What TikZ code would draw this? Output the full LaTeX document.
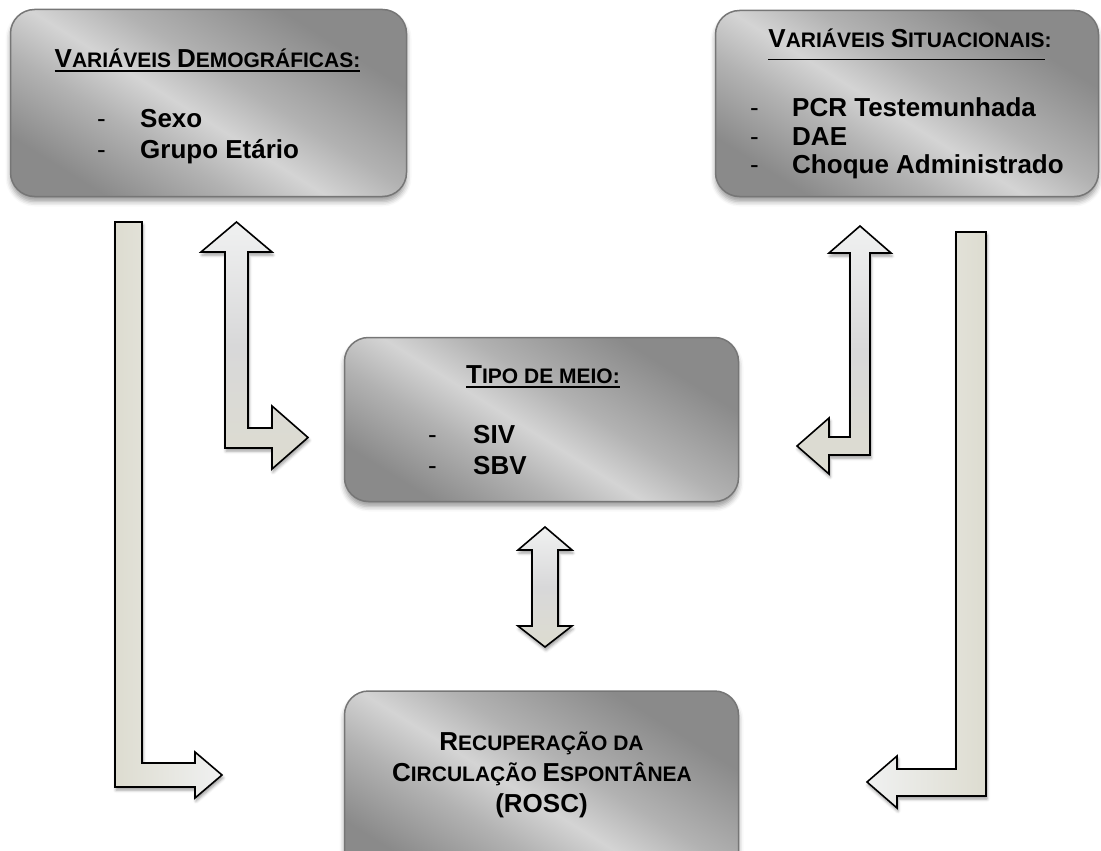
\documentclass[tikz,border=0pt]{standalone}
\usepackage{fontspec}
\setmainfont{Liberation Sans}
\usetikzlibrary{shadows,shadows.blur}
\definecolor{boxline}{RGB}{118,118,118}
\definecolor{metdark}{RGB}{138,138,138}
\definecolor{metmid}{RGB}{178,178,178}
\definecolor{metlight}{RGB}{212,212,212}
\definecolor{arrlight}{RGB}{240,241,241}
\definecolor{arrmid}{RGB}{216,216,217}
\definecolor{arrbeige}{RGB}{221,220,208}

\pgfdeclarehorizontalshading{metal}{100bp}{color(0bp)=(metdark); color(25bp)=(metdark); color(38bp)=(metmid); color(47bp)=(metlight); color(56bp)=(metmid); color(72bp)=(metdark); color(100bp)=(metdark)}

\newsavebox\ulsave
\newcommand{\ulbox}[2][-4.5pt]{\sbox\ulsave{#2}\rlap{\rule[#1]{\wd\ulsave}{1.3pt}}\usebox\ulsave}
\newcommand{\scw}[2]{{\fontsize{26}{30}\selectfont #1}{\fontsize{21}{30}\selectfont #2}}
\newcommand{\itemdash}[1]{\makebox[#1][l]{\mdseries -}}

\begin{document}
\begin{tikzpicture}[x=1pt, y=-1pt,
 every node/.style={inner sep=0pt},
 box/.style={rectangle, rounded corners=24pt, draw=boxline, line width=1.5pt, shading=metal, shading angle=58,
   blur shadow={shadow xshift=0pt, shadow yshift=-5pt, shadow blur radius=5pt, shadow opacity=40}},
 barrow/.style={draw=black, line width=1.6pt, line join=miter,
   blur shadow={shadow xshift=1pt, shadow yshift=-3pt, shadow blur radius=3pt, shadow opacity=40}},
 title/.style={anchor=base, font=\bfseries\fontsize{21}{30}\selectfont},
 item/.style={anchor=base west, font=\bfseries\fontsize{26}{30}\selectfont}]

	\useasboundingbox (0,0) rectangle (1101,851);

	% boxes
	\node[box, minimum width=396pt, minimum height=187pt] (demo) at (208.5,103) {};
	\node[box, minimum width=383pt, minimum height=186pt] (situ) at (907,103.5) {};
	\node[box, minimum width=394pt, minimum height=164pt] (meio) at (541.5,419.5) {};
	\node[box, minimum width=394pt, minimum height=190pt] (rosc) at (541.5,786) {};

	% texts
	\node[title] (demoT) at (207.5,67) {\ulbox{\scw{V}{ARIÁVEIS} \scw{D}{EMOGRÁFICAS:}}};
	\node[item] (demoA) at (97,128) {\itemdash{43pt}Sexo};
	\node[item] (demoB) at (97,158) {\itemdash{43pt}Grupo Etário};

	\node[title] (situT) at (910,48) {\ulbox[-12.5pt]{\scw{V}{ARIÁVEIS} \scw{S}{ITUACIONAIS}}:};
	\node[item] (situA) at (750,117) {\itemdash{42pt}PCR Testemunhada};
	\node[item] (situB) at (750,145) {\itemdash{42pt}DAE};
	\node[item] (situC) at (750,173) {\itemdash{42pt}Choque Administrado};

	\node[title] (meioT) at (543,383) {\ulbox{\scw{T}{IPO DE MEIO:}}};
	\node[item] (meioA) at (428,443) {\itemdash{45pt}SIV};
	\node[item] (meioB) at (428,474) {\itemdash{45pt}SBV};

	\node[title] (roscA) at (541.5,750) {\scw{R}{ECUPERAÇÃO DA}};
	\node[title] (roscB) at (542,781) {\scw{C}{IRCULAÇÃO} \scw{E}{SPONTÂNEA}};
	\node[title] (roscC) at (541.5,812) {\scw{(ROSC)}{}};

	% block arrows
	\coordinate (llTail) at (115,222);
	\coordinate (ldTip) at (236.5,222);
	\coordinate (rdTip) at (860,226);
	\coordinate (rlTail) at (956,232);
	\coordinate (mdTip) at (545,527);

	\draw[barrow, left color=arrbeige, right color=arrlight] (llTail) -- ++(27,0) -- ++(0,541) -- ++(53,0) -- ++(0,-11) -- ++(27,23) -- ++(-27,23) -- ++(0,-11) -- ++(-80,0) -- cycle;
	\draw[barrow, top color=arrlight, bottom color=arrbeige, middle color=arrmid] (ldTip) -- ++(35.5,30) -- ++(-24,0) -- ++(0,176) -- ++(24,0) -- ++(0,-22) -- ++(36,31.5) -- ++(-36,31.5) -- ++(0,-21) -- ++(-47,0) -- ++(0,-196) -- ++(-24,0) -- cycle;
	\draw[barrow, top color=arrlight, bottom color=arrbeige, middle color=arrmid] (rdTip) -- ++(31,27) -- ++(-21,0) -- ++(0,202) -- ++(-41,0) -- ++(0,19) -- ++(-32,-28) -- ++(32,-28) -- ++(0,19) -- ++(21,0) -- ++(0,-184) -- ++(-21,0) -- cycle;
	\draw[barrow, left color=arrlight, right color=arrbeige] (rlTail) -- ++(30,0) -- ++(0,564) -- ++(-89,0) -- ++(0,12) -- ++(-30,-26) -- ++(30,-26) -- ++(0,13) -- ++(59,0) -- cycle;
	\draw[barrow, top color=arrlight, bottom color=arrbeige, middle color=arrmid] (mdTip) -- ++(27,23) -- ++(-14,0) -- ++(0,76) -- ++(14,0) -- ++(-27,21) -- ++(-27,-21) -- ++(14,0) -- ++(0,-76) -- ++(-14,0) -- cycle;
\end{tikzpicture}
\end{document}
